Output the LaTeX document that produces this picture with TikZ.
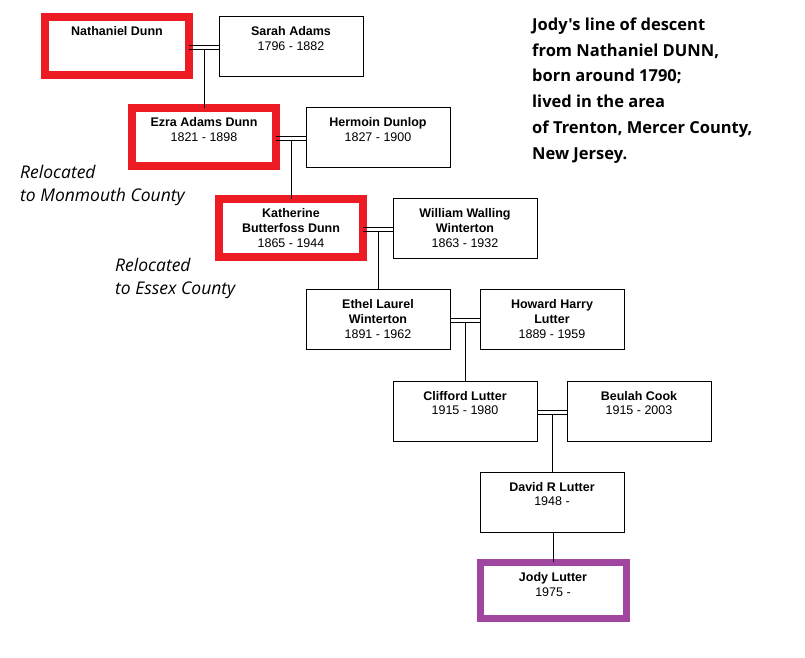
\documentclass[tikz,border=0pt]{standalone}
\usepackage{fontspec}
\setmainfont{Liberation Sans}
\newfontfamily\osans{Open Sans}
\usetikzlibrary{calc}
\tikzset{
  box/.style={draw=black, line width=1pt, minimum width=144pt, minimum height=60pt, inner sep=0pt, outer sep=0pt, fill=white},
  redbox/.style={box, draw={rgb,255:red,237;green,28;blue,36}, line width=8pt, minimum height=58pt},
  purplebox/.style={box, draw={rgb,255:red,160;green,70;blue,160}, line width=7pt, minimum height=56pt, minimum width=146pt},
  nm/.style={font=\bfseries\fontsize{12.5}{15.5}\selectfont, align=center, anchor=north, inner sep=0pt},
  yr/.style={font=\fontsize{12.5}{15}\selectfont, anchor=north, inner sep=0pt},
  link/.style={line width=1pt},
  note/.style={font=\osans\itshape\fontsize{17.5}{20}\selectfont, anchor=base west, inner sep=0pt},
  title/.style={font=\osans\bfseries\fontsize{16.5}{18}\selectfont, anchor=base west, inner sep=0pt},
}
\newcommand{\person}[6]{% name, x, y(top), style, nametext, year
  \node[#4] (#1) at (#2+72, #3+30) {};
  \node[nm] (#1n) at (#2+72, #3+10) {#5};
}
\begin{document}
\begin{tikzpicture}[x=1pt,y=-1pt]
\useasboundingbox[fill=white] (0,0) rectangle (805,657);
% boxes
\person{nat}{45}{16}{redbox}{Nathaniel Dunn}{}
\person{sar}{219}{16}{box}{Sarah Adams}{}
\node[yr] (sary) at (291,42) {1796 - 1882};
\person{ezr}{132}{107}{redbox}{Ezra Adams Dunn}{}
\node[yr] (ezry) at (204,133) {1821 - 1898};
\person{her}{306}{107}{box}{Hermoin Dunlop}{}
\node[yr] (hery) at (378,133) {1827 - 1900};
\person{kat}{219}{198}{redbox}{Katherine\\Butterfoss Dunn}{}
\node[yr] (katy) at (291,239) {1865 - 1944};
\person{wil}{393}{198}{box}{William Walling\\Winterton}{}
\node[yr] (wily) at (465,239) {1863 - 1932};
\person{eth}{306}{289}{box}{Ethel Laurel\\Winterton}{}
\node[yr] (ethy) at (378,330) {1891 - 1962};
\person{how}{480}{289}{box}{Howard Harry\\Lutter}{}
\node[yr] (howy) at (552,330) {1889 - 1959};
\person{cli}{393}{381}{box}{Clifford Lutter}{}
\node[yr] (cliy) at (465,406) {1915 - 1980};
\person{beu}{567}{381}{box}{Beulah Cook}{}
\node[yr] (beuy) at (639,406) {1915 - 2003};
\person{dav}{480}{472}{box}{David R Lutter}{}
\node[yr] (davy) at (552,497) {1948 -};
\node[purplebox] (jod) at (553,590) {};
\node[nm] (jodn) at (553,572) {Jody Lutter};
\node[yr] (jody) at (553,588) {1975 -};
% links
\foreach \a/\b/\c in {nat/sar/ezr, ezr/her/kat, kat/wil/eth, eth/how/cli, cli/beu/dav}{
  \draw[link] ($(\a.east)+(0,-1)$) -- ($(\b.west)+(0,-1)$);
  \draw[link] ($(\a.east)+(0,3)$) -- ($(\b.west)+(0,3)$);
  \coordinate (m\a) at ($($(\a.east)!0.5!(\b.west)$)+(0,3)$);
  \draw[link] (m\a) -- (m\a |- \c.north);
}
\draw[link] (jod.north) -- (jod.north |- dav.south);
% notes
\node[note] (r1) at (20,178) {Relocated};
\node[note] (r2) at (20,201) {to Monmouth County};
\node[note] (r3) at (115,271) {Relocated};
\node[note] (r4) at (115,294) {to Essex County};
% title
\node[title] (t1) at (532,30) {Jody's line of descent};
\node[title] (t2) at (532,56) {from Nathaniel DUNN,};
\node[title] (t3) at (532,81) {born around 1790;};
\node[title] (t4) at (532,107) {lived in the area};
\node[title] (t5) at (532,133) {of Trenton, Mercer County,};
\node[title] (t6) at (532,159) {New Jersey.};
\end{tikzpicture}
\end{document}
